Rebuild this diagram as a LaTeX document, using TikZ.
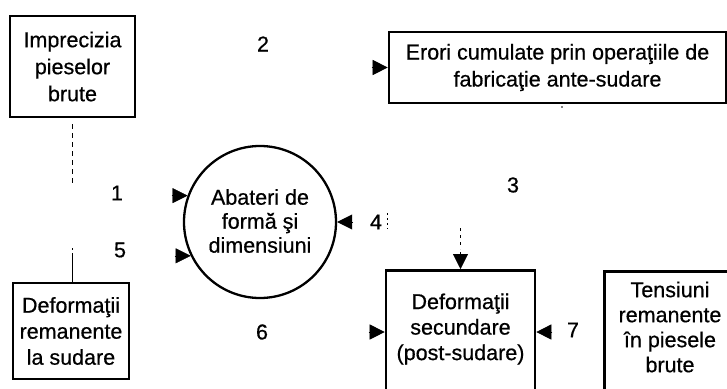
\documentclass[tikz,border=0pt]{standalone}
\usepackage{fontspec}
\setmainfont{Liberation Sans}[FakeBold=0.6]
\usetikzlibrary{arrows.meta,calc}
\begin{document}
\begin{tikzpicture}[x=1pt,y=-1pt,
  box/.style={draw, line width=2.6pt, inner sep=0pt},
  txt/.style={align=center, font=\fontsize{21.5}{27}\selectfont, inner sep=0pt},
  num/.style={font=\fontsize{21.5}{26}\selectfont, inner sep=0pt},
  tipst/.style={-{Triangle[length=15pt,width=15pt]}},
  faint/.style={line width=0.8pt, dash pattern=on 5pt off 4pt}]
\useasboundingbox (0,0) rectangle (727,388);
\clip (0,0) rectangle (727,388);
% boxes
\node[box, txt, minimum width=125pt, minimum height=101pt] (b1) at (72.5,66.5) {Imprecizia\\pieselor\\brute};
\node[box, txt, minimum width=337pt, minimum height=71pt] (er) at (557.5,67.5) {Erori cumulate prin operaţiile de\\fabricaţie ante-sudare};
\node[draw, line width=2.3pt, circle, minimum size=152pt, inner sep=0pt] (ci) at (260,222) {};
\node[txt, font=\fontsize{21.5}{24}\selectfont] (cit) at (260,221) {Abateri de\\formă şi\\dimensiuni};
\node[box, txt, font=\fontsize{21.5}{26}\selectfont, minimum width=116pt, minimum height=96pt] (rem) at (71,331) {Deformaţii\\remanente\\la sudare};
\node[box, minimum width=149pt, minimum height=160pt, anchor=north] (sec) at (460.5,269) {};
\node[txt, font=\fontsize{21.5}{25.5}\selectfont] (sect) at (460.5,329) {Deformaţii\\secundare\\(post-sudare)};
\node[box, minimum width=134pt, minimum height=160pt, anchor=north west] (ten) at (603,270) {};
\node[txt, font=\fontsize{21.5}{25}\selectfont] (tent) at (670,327) {Tensiuni\\remanente\\în piesele\\brute};
% labels
\node[num] (n1) at (117,193) {1};
\node[num] (n2) at (263,44) {2};
\node[num] (n3) at (513,185) {3};
\node[num] (n4) at (376,222) {4};
\node[num] (n5) at (120,250) {5};
\node[num] (n6) at (262,332) {6};
\node[num] (n7) at (573,330) {7};
% arrow heads
\draw[tipst] ($(er.west)+(-16,0)$) -- (er.west);
\draw[tipst] ($(ci.160)+(-16,0)$) -- (ci.160);
\draw[tipst] ($(ci.206)+(-16,0)$) -- (ci.206);
\draw[tipst] ($(ci.east)+(16,0)$) -- (ci.east);
\coordinate (s6) at ($(sec.north west)+(0,63)$);
\coordinate (s7) at ($(sec.north east)+(0,63)$);
\draw[tipst] ($(s6)+(-16,0)$) -- (s6);
\draw[tipst] ($(s7)+(16,0)$) -- (s7);
\draw[tipst] ($(sec.north)+(0,-17)$) -- (sec.north);
% faint remains of connector lines
\coordinate (d1) at (72.5,186);
\draw[faint] ($(b1.south)+(0,6)$) -- (d1);
\coordinate (d2) at (72,248);
\draw[line width=0.8pt, dash pattern=on 2pt off 3pt on 40pt off 0pt] (d2) -- (d2 |- rem.north);
\coordinate (d3a) at (387,213);
\coordinate (d3b) at (387,229);
\draw[line width=0.6pt, dash pattern=on 2pt off 3pt] (d3a) -- (d3b);
\coordinate (d4) at (460.5,228);
\draw[line width=0.8pt, dash pattern=on 3pt off 4pt] (d4) -- ($(sec.north)+(0,-20)$);
\coordinate (d5) at (562,107);
\fill (d5) circle (0.8pt);
\end{tikzpicture}
\end{document}
